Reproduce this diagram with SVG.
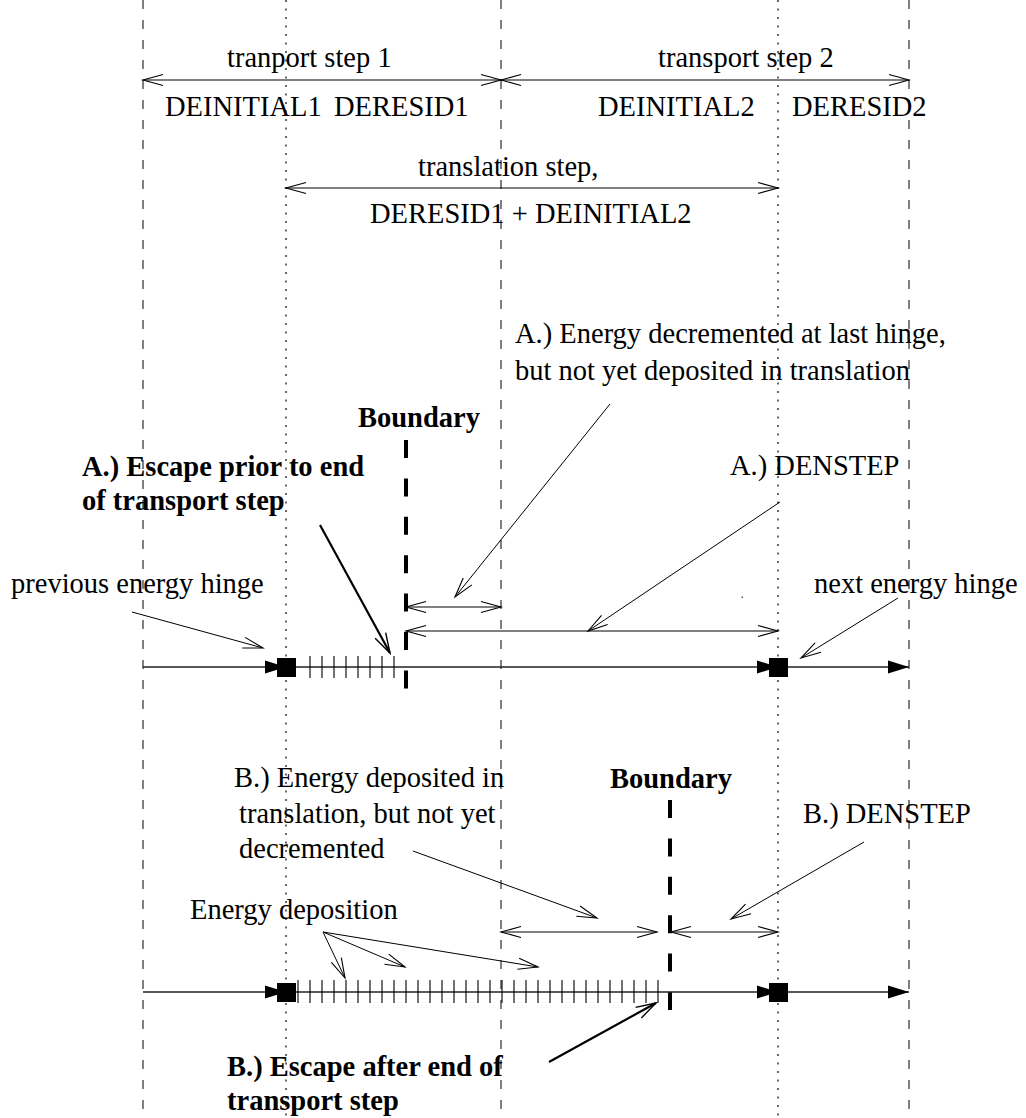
<svg xmlns="http://www.w3.org/2000/svg" width="1026" height="1118" viewBox="0 0 1026 1118">
<style>
text{font-family:"Liberation Serif","Times New Roman",serif;font-size:28.5px;fill:#000}
.b{font-weight:bold}
.dash{stroke:#000;stroke-width:1;stroke-dasharray:9 11;fill:none}
.dot{stroke:#000;stroke-width:1.2;stroke-dasharray:2 6.5;fill:none}
.bnd{stroke:#000;stroke-width:4;stroke-dasharray:18 20.4;fill:none}
.dbl{stroke:#000;stroke-width:1;fill:none;marker-start:url(#open);marker-end:url(#open)}
.ptr{stroke:#000;stroke-width:1;fill:none;marker-end:url(#open)}
.tptr{stroke:#000;stroke-width:2.2;fill:none;marker-end:url(#openT)}
.axis{stroke:#222;stroke-width:1.3;fill:none;marker-end:url(#fill)}
.tick{stroke:#000;stroke-width:1.1;fill:none}
</style>
<defs>
<marker id="open" markerUnits="userSpaceOnUse" viewBox="-24 -12 48 24" markerWidth="48" markerHeight="24" refX="0" refY="0" orient="auto-start-reverse">
<path d="M-20,-5.5 L0,0 L-20,5.5" fill="none" stroke="#000" stroke-width="1.1"/>
</marker>
<marker id="openT" markerUnits="userSpaceOnUse" viewBox="-24 -12 48 24" markerWidth="48" markerHeight="24" refX="0" refY="0" orient="auto">
<path d="M-20,-6 L0,0 L-20,6" fill="none" stroke="#000" stroke-width="1.4"/>
</marker>
<marker id="fill" markerUnits="userSpaceOnUse" viewBox="-24 -12 48 24" markerWidth="48" markerHeight="24" refX="0" refY="0" orient="auto">
<path d="M-21,-6.5 L0,0 L-21,6.5 Z" fill="#000"/>
</marker>
</defs>

<g id="guides">
<line class="dash" x1="143" y1="0" x2="143" y2="1118"/>
<line class="dash" x1="501" y1="0" x2="501" y2="1118"/>
<line class="dash" x1="909" y1="0" x2="909" y2="1118"/>
<line class="dot" x1="286" y1="0" x2="286" y2="1118"/>
<line class="dot" x1="778" y1="0" x2="778" y2="1118"/>
</g>

<g id="boundary-a">
<line class="bnd" x1="406" y1="440" x2="406" y2="690"/>
<text class="b" x="358" y="427">Boundary</text>
</g>
<g id="boundary-b">
<line class="bnd" x1="670" y1="800" x2="670" y2="1012"/>
<text class="b" x="610" y="788">Boundary</text>
</g>

<g id="connectors">
<line class="dbl" x1="143" y1="80" x2="501" y2="80"/>
<line class="dbl" x1="501" y1="80" x2="909" y2="80"/>
<line class="dbl" x1="286" y1="188" x2="778" y2="188"/>
<line class="dbl" x1="406" y1="607" x2="501" y2="607"/>
<line class="dbl" x1="406" y1="631" x2="778" y2="631"/>
<line class="dbl" x1="501" y1="932" x2="657" y2="932"/>
<line class="dbl" x1="671" y1="932" x2="778" y2="932"/>
<line class="ptr" x1="132" y1="612" x2="263" y2="648"/>
<line class="ptr" x1="610" y1="404" x2="455" y2="597"/>
<line class="ptr" x1="780" y1="502" x2="588" y2="631"/>
<line class="ptr" x1="898" y1="598" x2="801" y2="658"/>
<line class="ptr" x1="413" y1="851" x2="597" y2="918"/>
<line class="ptr" x1="864" y1="842" x2="731" y2="919"/>
<line class="ptr" x1="323" y1="932" x2="345" y2="978"/>
<line class="ptr" x1="323" y1="932" x2="405" y2="967"/>
<line class="ptr" x1="323" y1="932" x2="538" y2="967"/>
<line class="tptr" x1="320" y1="525" x2="390" y2="653"/>
<line class="tptr" x1="549" y1="1062" x2="656" y2="1003"/>
<rect x="741.5" y="596.5" width="1.5" height="1.5" fill="#555"/>
</g>

<g id="track-a">
<line class="axis" x1="143" y1="667" x2="286" y2="667"/>
<line class="axis" x1="286" y1="667" x2="778" y2="667"/>
<line class="axis" x1="778" y1="667" x2="909" y2="667"/>
<path class="tick" d="M310,656V678M322,656V678M334,656V678M346,656V678M358,656V678M370,656V678M382,656V678M394,656V678"/>
<rect x="277" y="658" width="19" height="19" fill="#000"/>
<rect x="769" y="658" width="19" height="19" fill="#000"/>
</g>

<g id="track-b">
<line class="axis" x1="143" y1="992" x2="286" y2="992"/>
<line class="axis" x1="286" y1="992" x2="778" y2="992"/>
<line class="axis" x1="778" y1="992" x2="909" y2="992"/>
<path class="tick" d="M298,980V1003M310,980V1003M322,980V1003M334,980V1003M346,980V1003M358,980V1003M370,980V1003M382,980V1003M394,980V1003M406,980V1003M418,980V1003M430,980V1003M442,980V1003M454,980V1003M466,980V1003M478,980V1003M490,980V1003M502,980V1003M514,980V1003M526,980V1003M538,980V1003M550,980V1003M562,980V1003M574,980V1003M586,980V1003M598,980V1003M610,980V1003M622,980V1003M634,980V1003M646,980V1003M658,980V1003"/>
<rect x="277" y="983" width="19" height="19" fill="#000"/>
<rect x="769" y="983" width="19" height="19" fill="#000"/>
</g>

<g id="labels-top">
<text x="227" y="67">tranport step 1</text>
<text x="658" y="67">transport step 2</text>
<text x="165" y="116">DEINITIAL1</text>
<text x="334" y="116">DERESID1</text>
<text x="598" y="116">DEINITIAL2</text>
<text x="792" y="116">DERESID2</text>
<text x="418" y="176">translation step,</text>
<text x="370" y="223">DERESID1 + DEINITIAL2</text>
</g>

<g id="labels-a">
<text x="515" y="343">A.) Energy decremented at last hinge,</text>
<text x="515" y="380">but not yet deposited in translation</text>
<text x="730" y="475">A.) DENSTEP</text>
<text class="b" x="82" y="476">A.) Escape prior to end</text>
<text class="b" x="82" y="510">of transport step</text>
<text x="11" y="593">previous energy hinge</text>
<text x="814" y="593">next energy hinge</text>
</g>

<g id="labels-b">
<text x="234" y="787">B.) Energy deposited in</text>
<text x="239" y="823">translation, but not yet</text>
<text x="239" y="858">decremented</text>
<text x="803" y="823">B.) DENSTEP</text>
<text x="190" y="919">Energy deposition</text>
<text class="b" x="227" y="1076">B.) Escape after end of</text>
<text class="b" x="227" y="1110">transport step</text>
</g>
</svg>
